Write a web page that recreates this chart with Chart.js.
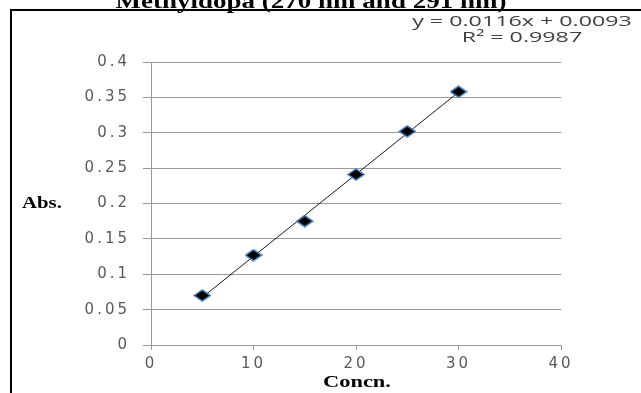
<!DOCTYPE html>
<html>
<head>
<meta charset="utf-8">
<script src="https://cdn.jsdelivr.net/npm/chart.js@4.4.0/dist/chart.umd.min.js"></script>
<style>
  html, body { margin: 0; padding: 0; background: #fff; }
  canvas { display: block; }
</style>
</head>
<body>
<canvas id="calChart" width="641" height="393"></canvas>
<script>
// concentration vs absorbance
const concn = [5, 10, 15, 20, 25, 30]
const abs = [0.070, 0.127, 0.175, 0.241, 0.302, 0.358]

// trendline ends
const trendX = [5, 30]
const trendY = [0.0673, 0.3573]

const xTicks = [0, 10, 20, 30, 40]
const yTicks = [0, 0.05, 0.1, 0.15, 0.2, 0.25, 0.3, 0.35, 0.4]

const titleText = "Methyldopa (270 nm and 291 nm)"
const eqText = "y = 0.0116x + 0.0093"
const r2Text = "R\u00B2 = 0.9987"
const xTitle = "Concn."
const yTitle = "Abs."

const gridColor = "#999999"
const tickFont = { family: "DejaVu Sans", size: 15 }

// diamond marker, a bit wider than tall
function makeDiamond() {
  const c = document.createElement("canvas")
  c.width = 18
  c.height = 13
  const g = c.getContext("2d")
  g.beginPath()
  g.moveTo(1, 6.5)
  g.lineTo(9, 1)
  g.lineTo(17, 6.5)
  g.lineTo(9, 12)
  g.closePath()
  g.fillStyle = "#000"
  g.fill()
  g.strokeStyle = "#4f81bd"
  g.lineWidth = 1.5
  g.stroke()
  return c
}

// stretched text, like the picture
function wideText(ctx, text, x, y, font, sx, align) {
  ctx.save()
  ctx.translate(x, y)
  ctx.scale(sx, 1)
  ctx.font = font
  ctx.textAlign = align
  ctx.fillText(text, 0, 0)
  ctx.restore()
}

// words drawn outside the plot, plus the frame
const extras = {
  id: "extras",
  beforeUpdate(chart) {
    chart.ctx.letterSpacing = "3px"
  },
  afterDraw(chart) {
    const ctx = chart.ctx
    ctx.save()

    // frame
    ctx.strokeStyle = "#000"
    ctx.lineWidth = 2
    ctx.beginPath()
    ctx.moveTo(11, 393)
    ctx.lineTo(11, 10)
    ctx.lineTo(641, 10)
    ctx.stroke()

    ctx.letterSpacing = "0px"
    ctx.fillStyle = "#000"
    ctx.textBaseline = "alphabetic"

    // title, cut at the top
    wideText(ctx, titleText, 311, 8, "bold 20px 'Liberation Serif'", 1.35, "center")

    // equation
    ctx.fillStyle = "#404040"
    ctx.textBaseline = "middle"
    wideText(ctx, eqText, 522, 22, "15px 'Open Sans'", 1.55, "center")
    wideText(ctx, r2Text, 522, 38, "15px 'Open Sans'", 1.55, "center")

    // axis titles
    ctx.fillStyle = "#000"
    wideText(ctx, yTitle, 22, 204, "bold 16px 'Liberation Serif'", 1.3, "left")
    wideText(ctx, xTitle, 357, 383, "bold 16px 'Liberation Serif'", 1.4, "center")

    ctx.restore()
  }
}

const config = {
  data: {
    datasets: [{
      type: "scatter",
      label: "Abs",
      data: concn.map((c, i) => ({ x: c, y: abs[i] })),
      pointStyle: makeDiamond(),
      order: 0
    },
    {
      type: "line",
      label: "Linear",
      data: trendX.map((x, i) => ({ x: x, y: trendY[i] })),
      borderColor: "#1a1a1a",
      borderWidth: 1,
      pointRadius: 0,
      fill: false,
      order: 1
    }]
  },
  plugins: [extras],
  options: {
    responsive: false,
    animation: false,
    events: [],
    layout: {
      padding: { top: 62, right: 80, left: 0, bottom: 0 }
    },
    plugins: {
      legend: { display: false },
      tooltip: { enabled: false }
    },
    scales: {
      x: {
        type: "linear",
        min: xTicks[0],
        max: xTicks[xTicks.length - 1],
        afterBuildTicks(scale) {
          scale.ticks = xTicks.map(v => ({ value: v }))
        },
        afterFit(scale) {
          scale.height = 48
        },
        grid: {
          drawOnChartArea: false,
          drawTicks: true,
          tickLength: 5,
          color: gridColor
        },
        border: { color: gridColor },
        ticks: {
          color: "#595959",
          font: tickFont,
          padding: 5,
          maxRotation: 0
        }
      },
      y: {
        min: yTicks[0],
        max: yTicks[yTicks.length - 1],
        afterBuildTicks(scale) {
          scale.ticks = yTicks.map(v => ({ value: v }))
        },
        afterFit(scale) {
          scale.width = 151
        },
        grid: {
          color: gridColor,
          tickLength: 8
        },
        border: { color: gridColor },
        ticks: {
          color: "#595959",
          font: tickFont,
          padding: 13,
          callback: v => String(+v.toFixed(2))
        }
      }
    }
  }
}

const calChart = new Chart(document.getElementById("calChart"), config)
</script>
</body>
</html>
